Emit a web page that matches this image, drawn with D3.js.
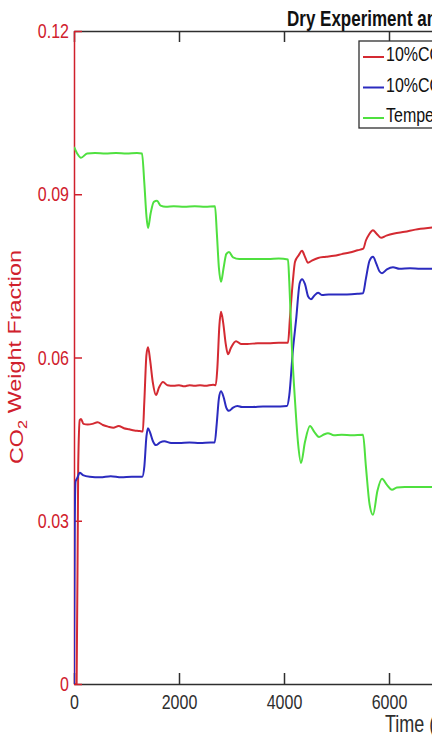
<!DOCTYPE html>
<meta charset="utf-8">
<style>
    body { margin: 0; background: #fff; }
    text { font-family: "Liberation Sans", Arial, sans-serif; }
</style>
<body>
<script src="https://cdn.jsdelivr.net/npm/d3@7"></script>
<script>

    var width = 432,
        height = 737;

    // the figure is stretched vertically, so text gets a y scale too
    var stretch = 1.3;

    var yTicks = [0, 0.03, 0.06, 0.09, 0.12];
    var xTicks = [0, 2000, 4000, 6000];

    // 10%CO2 experiment (red)
    var expTime = [0, 50, 80, 110, 133, 180, 260, 350, 450, 550, 650, 750, 850, 950, 1050, 1150, 1250, 1310,
        1340, 1380, 1410, 1450, 1500, 1562, 1620, 1695, 1780, 1900, 2000, 2100, 2200, 2300, 2400, 2500, 2650, 2700,
        2730, 2770, 2800, 2840, 2890, 2933, 2990, 3086, 3180, 3300, 3500, 3700, 3900, 4050,
        4076, 4115, 4170, 4210, 4280, 4343, 4400, 4457, 4530, 4650, 4800, 4950, 5100, 5250, 5400, 5510,
        5560, 5620, 5695, 5760, 5848, 5950, 6100, 6300, 6500, 6743, 6850];
    var expCO2 = [0, 0, 0.040, 0.0485, 0.0487, 0.0478, 0.0477, 0.0478, 0.0481, 0.0476, 0.0473, 0.0471, 0.0474, 0.0470, 0.0468, 0.0466, 0.0465, 0.0464,
        0.052, 0.0605, 0.0619, 0.0595, 0.0555, 0.0531, 0.0545, 0.0555, 0.0549, 0.0548, 0.0549, 0.0547, 0.0549, 0.0548, 0.0549, 0.0548, 0.0550, 0.0549,
        0.058, 0.066, 0.0684, 0.0665, 0.0625, 0.0606, 0.0618, 0.0630, 0.0625, 0.0625, 0.0626, 0.0626, 0.0627, 0.0627,
        0.0627, 0.0675, 0.0742, 0.0776, 0.0788, 0.0796, 0.0785, 0.0774, 0.0778, 0.0783, 0.0785, 0.0787, 0.0790, 0.0793, 0.0797, 0.0800,
        0.0815, 0.0826, 0.0834, 0.0828, 0.0820, 0.0824, 0.0828, 0.0831, 0.0835, 0.0838, 0.0839];

    // 10%CO2 simulation (blue)
    var simTime = [0, 15, 30, 60, 110, 170, 300, 500, 700, 900, 1100, 1300,
        1340, 1380, 1410, 1450, 1500, 1560, 1640, 1720, 1850, 2000, 2200, 2400, 2600, 2680,
        2720, 2760, 2800, 2850, 2900, 2952, 3030, 3114, 3200, 3400, 3600, 3800, 4057,
        4100, 4170, 4230, 4300, 4343, 4400, 4460, 4514, 4580, 4648, 4720, 4850, 5000, 5200, 5400, 5505,
        5560, 5630, 5695, 5760, 5820, 5867, 5960, 6076, 6200, 6400, 6600, 6850];
    var simCO2 = [0, 0.030, 0.0372, 0.0378, 0.0388, 0.0384, 0.0381, 0.0380, 0.0382, 0.0380, 0.0381, 0.0381,
        0.040, 0.0455, 0.0470, 0.0462, 0.0447, 0.0439, 0.0444, 0.0446, 0.0443, 0.0443, 0.0444, 0.0443, 0.0444, 0.0444,
        0.048, 0.0525, 0.0538, 0.0527, 0.0508, 0.0502, 0.0508, 0.0511, 0.0509, 0.0509, 0.0510, 0.0510, 0.0511,
        0.053, 0.0614, 0.0669, 0.0737, 0.0744, 0.0735, 0.0712, 0.0707, 0.0714, 0.0719, 0.0715, 0.0716, 0.0716, 0.0716, 0.0717, 0.0718,
        0.0745, 0.0778, 0.0785, 0.0772, 0.0758, 0.0755, 0.0762, 0.0766, 0.0763, 0.0764, 0.0763, 0.0763];

    // temperature (green, right axis, off picture)
    var tempTime = [0, 60, 133, 250, 400, 600, 800, 1000, 1200, 1295,
        1340, 1380, 1410, 1460, 1520, 1581, 1650, 1750, 1900, 2100, 2300, 2500, 2686,
        2720, 2760, 2800, 2850, 2900, 2952, 3030, 3150, 3400, 3700, 3900, 4076,
        4100, 4150, 4210, 4267, 4324, 4400, 4495, 4580, 4667, 4750, 4838, 4950, 5100, 5300, 5505,
        5560, 5630, 5695, 5780, 5867, 5960, 6057, 6150, 6300, 6500, 6850];
    var tempVal = [98.7, 97.5, 96.7, 97.5, 97.6, 97.5, 97.6, 97.5, 97.6, 97.5,
        92, 86, 83.8, 86.5, 88.6, 88.8, 87.9, 87.7, 87.8, 87.7, 87.8, 87.7, 87.8,
        83, 76.5, 73.9, 76.5, 79, 79.4, 78.4, 78.1, 78.1, 78.1, 78.2, 78.0,
        74, 62, 52, 44.3, 40.6, 44.5, 47.4, 46.3, 45.4, 45.8, 46.1, 45.7, 45.8, 45.7, 45.8,
        40, 33, 31.1, 35.5, 37.7, 36.6, 35.7, 36.1, 36.2, 36.2, 36.2];

    var legendLabels = ["10%CO2 Experiment", "10%CO2 Simulation", "Temperature"];
    var colors = ["#d42a32", "#2b2bbf", "#4fe03f"];

    var red = "#d0202c",
        dark = "#2e2e2e";

    var x = d3.scaleLinear().domain([0, 8000]).range([74, 494]);
    var y = d3.scaleLinear().domain([0, 0.12]).range([684, 31]);
    var yT = d3.scaleLinear().domain([0, 120]).range([684, 31]);

    var svg = d3.select("body").append("svg")
        .attr("width", width)
        .attr("height", height);

    svg.append("clipPath").attr("id", "plot")
        .append("rect").attr("x", 74).attr("y", 31).attr("width", 420).attr("height", 653);

    // axes
    var bottomAxis = svg.append("g")
        .attr("transform", "translate(0,684)")
        .call(d3.axisBottom(x).tickValues(xTicks).tickSizeInner(-11).tickSizeOuter(0).tickPadding(8.2)
            .tickFormat(d3.format("d")));
    bottomAxis.selectAll("path, line").attr("stroke", dark).attr("stroke-width", 1.5);
    bottomAxis.selectAll("text").attr("fill", dark).attr("font-size", 16)
        .attr("transform", "scale(1," + stretch + ")");

    var topAxis = svg.append("g")
        .attr("transform", "translate(0,31)")
        .call(d3.axisTop(x).tickValues(xTicks).tickSizeInner(-11).tickSizeOuter(0).tickFormat(""));
    topAxis.selectAll("path, line").attr("stroke", dark).attr("stroke-width", 1.5);

    var leftAxis = svg.append("g")
        .attr("transform", "translate(74,0)")
        .call(d3.axisLeft(y).tickValues(yTicks).tickSizeInner(-8).tickSizeOuter(0).tickPadding(5)
            .tickFormat(function(d) { return d === 0 ? "0" : d3.format(".2f")(d); }));
    leftAxis.selectAll("path, line").attr("stroke", red).attr("stroke-width", 1.5);
    leftAxis.selectAll("text").attr("fill", red).attr("font-size", 16)
        .attr("transform", "scale(1," + stretch + ")");

    // lines
    function series(t, v, sy) {
        return t.map(function(d, i) { return [x(d), sy(v[i])]; });
    }
    var line = d3.line().curve(d3.curveMonotoneX);
    var data = [series(expTime, expCO2, y), series(simTime, simCO2, y), series(tempTime, tempVal, yT)];

    svg.append("g").attr("clip-path", "url(#plot)")
        .selectAll("path")
        .data(data)
        .enter().append("path")
        .attr("d", line)
        .attr("fill", "none")
        .attr("stroke", function(d, i) { return colors[i]; })
        .attr("stroke-width", 2)
        .attr("stroke-linejoin", "round");

    // text with CO2 subscript
    function label(sel, s) {
        var parts = s.split("CO2");
        sel.append("tspan").text(parts[0] + (parts.length > 1 ? "CO" : ""));
        if (parts.length > 1) {
            sel.append("tspan").attr("font-size", "70%").attr("dy", "0.3em").text("2");
            sel.append("tspan").attr("dy", "-0.3em").text(parts[1]);
        }
    }

    // title
    svg.append("text")
        .attr("transform", "translate(287,26) scale(1," + stretch + ")")
        .attr("font-size", 17)
        .attr("font-weight", "bold")
        .attr("fill", "#111")
        .text("Dry Experiment and Simulation");

    // x label
    svg.append("text")
        .attr("transform", "translate(385,732) scale(1," + stretch + ")")
        .attr("font-size", 18)
        .attr("fill", dark)
        .text("Time (s)");

    // y label
    svg.append("text")
        .attr("transform", "translate(23,357) scale(1," + stretch + ") rotate(-90)")
        .attr("font-size", 18)
        .attr("fill", red)
        .attr("text-anchor", "middle")
        .call(label, "CO2 Weight Fraction");

    // legend
    var legend = svg.append("g");
    legend.append("rect")
        .attr("x", 359).attr("y", 41).attr("width", 160).attr("height", 87)
        .attr("fill", "#fff").attr("stroke", dark).attr("stroke-width", 1.3);

    var rows = legend.selectAll("g.row")
        .data(legendLabels)
        .enter().append("g")
        .attr("class", "row")
        .attr("transform", function(d, i) { return "translate(0," + (54 + i * 30.5) + ")"; });
    rows.append("line")
        .attr("x1", 363).attr("x2", 384).attr("y1", 3).attr("y2", 3)
        .attr("stroke", function(d, i) { return colors[i]; })
        .attr("stroke-width", 2);
    rows.append("text")
        .attr("transform", "translate(386,0) scale(1," + stretch + ")")
        .attr("dy", "0.35em")
        .attr("font-size", 16)
        .attr("fill", "#111")
        .each(function(d) { label(d3.select(this), d); });

</script>
